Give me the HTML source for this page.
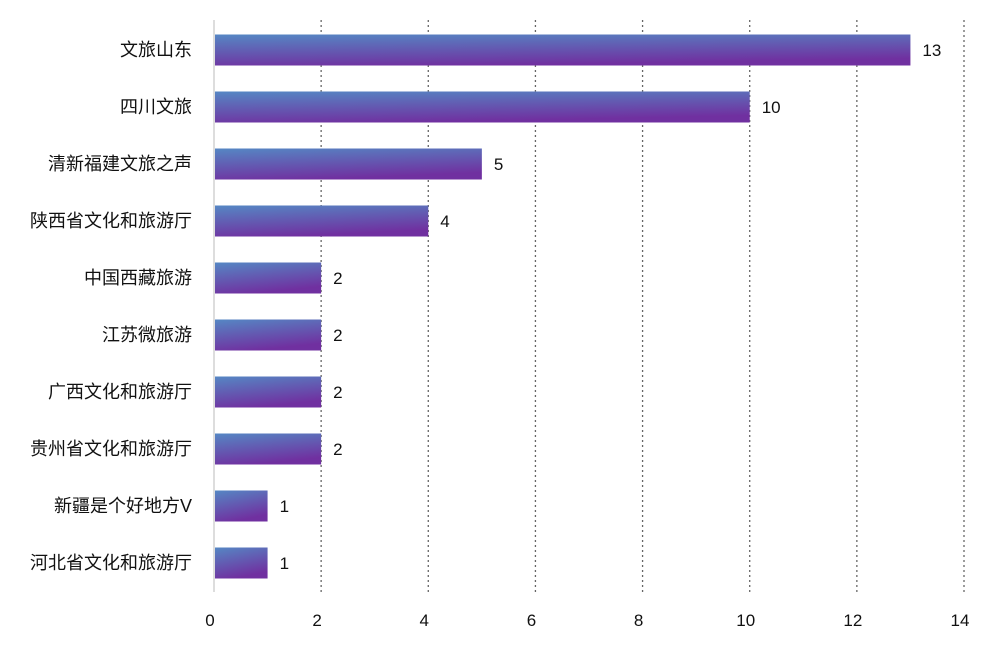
<!DOCTYPE html>
<html><head><meta charset="utf-8"><style>
body{margin:0;background:#fff;}
svg{display:block;font-family:"Liberation Sans","Noto Sans CJK SC",sans-serif;}
</style></head><body>
<svg id="chart" width="1000" height="646" viewBox="0 0 1000 646">
<defs>
<linearGradient id="g" x1="0" y1="0" x2="0.35" y2="1">
<stop offset="0" stop-color="#5587c4"/><stop offset="1" stop-color="#7030a0"/>
</linearGradient>
</defs>
<g id="grid"></g><g id="bars"></g><g id="labels"></g>
</svg>
<script>
const categories=["文旅山东","四川文旅","清新福建文旅之声","陕西省文化和旅游厅","中国西藏旅游","江苏微旅游","广西文化和旅游厅","贵州省文化和旅游厅","新疆是个好地方V","河北省文化和旅游厅"];
const values=[13,10,5,4,2,2,2,2,1,1];
const ticks=[0,2,4,6,8,10,12,14];
const NS="http://www.w3.org/2000/svg";
const x0=214,x1=964,xmax=14;
const xs=v=>x0+(v/xmax)*(x1-x0);
const yTop=21.5,band=57,bh=31;
const yc=i=>yTop+band*i+band/2;
const grid=document.getElementById('grid'),bars=document.getElementById('bars'),labels=document.getElementById('labels');
function mk(t,a,p){const e=document.createElementNS(NS,t);for(const k in a)e.setAttribute(k,a[k]);p.appendChild(e);return e;}
ticks.forEach(t=>{
  if(t>0){const l=mk('line',{x1:xs(t),x2:xs(t),y1:20,y2:592,stroke:'#666','stroke-width':1.3,'stroke-dasharray':'2,3'},grid);
  
  }
  const tx=mk('text',{x:xs(t)-4,y:626,'text-anchor':'middle','font-size':17,fill:'#111'},labels);
  tx.textContent=t;
  
  
});
const ax=mk('line',{x1:x0,x2:x0,y1:20,y2:592,stroke:'#ddd','stroke-width':2},grid);


categories.forEach((c,i)=>{
  const y=yc(i);
  const r=mk('rect',{x:x0+1,y:y-bh/2,width:xs(values[i])-x0-1,height:bh,fill:'url(#g)'},bars);
  
  
  const cl=mk('text',{x:192,y:y+6,'text-anchor':'end','font-size':18,fill:'#111'},labels);
  cl.textContent=c;
  
  
  const vl=mk('text',{x:xs(values[i])+12,y:y+6,'font-size':17,fill:'#111'},labels);
  vl.textContent=values[i];
  
  
});
</script>
</body></html>
